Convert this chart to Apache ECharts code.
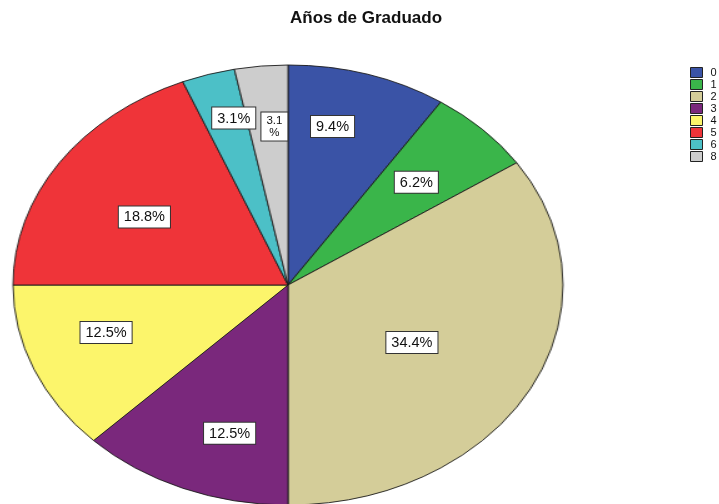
<!DOCTYPE html>
<html><head><meta charset="utf-8">
<script src="https://cdn.jsdelivr.net/npm/echarts@6/dist/echarts.min.js"></script>
<style>
html,body{margin:0;padding:0;background:#fff;}
#wrap{position:relative;width:719px;height:504px;overflow:hidden;}
#pie,#over{position:absolute;left:0;top:0;width:719px;height:504px;}
#pie{transform-origin:288px 285px;transform:scaleX(1.25);}
</style></head>
<body><div id="wrap"><div id="pie"></div><div id="over"></div></div>
<script>
const categories = ['0','1','2','3','4','5','6','8'];
const counts = [3, 2, 11, 4, 4, 6, 1, 1];
const pctLabels = ['9.4%','6.2%','34.4%','12.5%','12.5%','18.8%','3.1%','3.1%'];
const colors = ['#3a53a6','#3ab54a','#d4cd99','#7a287c','#fcf56b','#ef3439','#4cc0c7','#cdcdcd'];
// label placement style: radial fraction and angular nudge (degrees) per slice
const labelRadius = [0.738, 0.66, 0.521, 0.706, 0.696, 0.607, 0.784, 0.722];
const labelNudge = [-4.2, 0, 2, -5, 4.4, -3.1, 2.3, 1.7];

const CX = 288, CY = 285, R = 220, SX = 1.25;
const pieData = categories.map((c,i)=>({name:c, value:counts[i], itemStyle:{color:colors[i]}}));

const pieChart = echarts.init(document.getElementById('pie'), null, {renderer:'canvas'});
pieChart.setOption({
  animation:false,
  series:[{
    type:'pie', center:[CX,CY], radius:R, startAngle:90, clockwise:true,
    data:pieData, label:{show:false}, labelLine:{show:false},
    itemStyle:{borderColor:'#1a1a1a', borderWidth:0.9},
    emphasis:{disabled:true}
  }]
});

const overChart = echarts.init(document.getElementById('over'), null, {renderer:'canvas'});
overChart.setOption({
  animation:false,
  title:{text:'Años de Graduado', left:290, top:10, padding:0,
    textStyle:{fontFamily:'Liberation Sans, Arial', fontWeight:'bold', fontSize:17, color:'#111'}},
  legend:{orient:'vertical', left:690, top:67, padding:0, itemWidth:12, itemHeight:10, itemGap:1,
    icon:'rect',
    data:categories.map((c,i)=>({name:c, itemStyle:{color:colors[i], borderColor:'#222', borderWidth:1, opacity:1}})),
    textStyle:{fontFamily:'Liberation Sans, Arial', fontSize:11, color:'#111', padding:[0,0,0,3], lineHeight:10}},
  series:[{
    type:'pie', center:[CX,CY], radius:R, startAngle:90, clockwise:true,
    data:categories.map((c,i)=>({name:c, value:counts[i]})),
    itemStyle:{color:'rgba(0,0,0,0)', borderWidth:0},
    emphasis:{disabled:true},
    labelLine:{show:false},
    label:{show:true, position:'inside',
      formatter:p=> p.dataIndex===7 ? '{s|3.1}\n{s|%}' : pctLabels[p.dataIndex],
      fontFamily:'Liberation Sans, Arial', fontSize:14.5, color:'#111', lineHeight:16,
      backgroundColor:'#fff', borderColor:'#333', borderWidth:1, padding:[3,5,2,5],
      rich:{s:{fontFamily:'Liberation Sans, Arial', fontSize:11.5, color:'#111', lineHeight:11.5, align:'center'}}
    },
    labelLayout:function(p){
      const r = p.labelRect;
      const lx = r.x + r.width/2, ly = r.y + r.height/2;
      const a = Math.atan2(lx-CX, -(ly-CY)) + labelNudge[p.dataIndex]*Math.PI/180;
      const rr = labelRadius[p.dataIndex]*R;
      return {x: CX + Math.sin(a)*rr*SX, y: CY - Math.cos(a)*rr, align:'center', verticalAlign:'middle'};
    }
  }]
});
</script></body></html>
